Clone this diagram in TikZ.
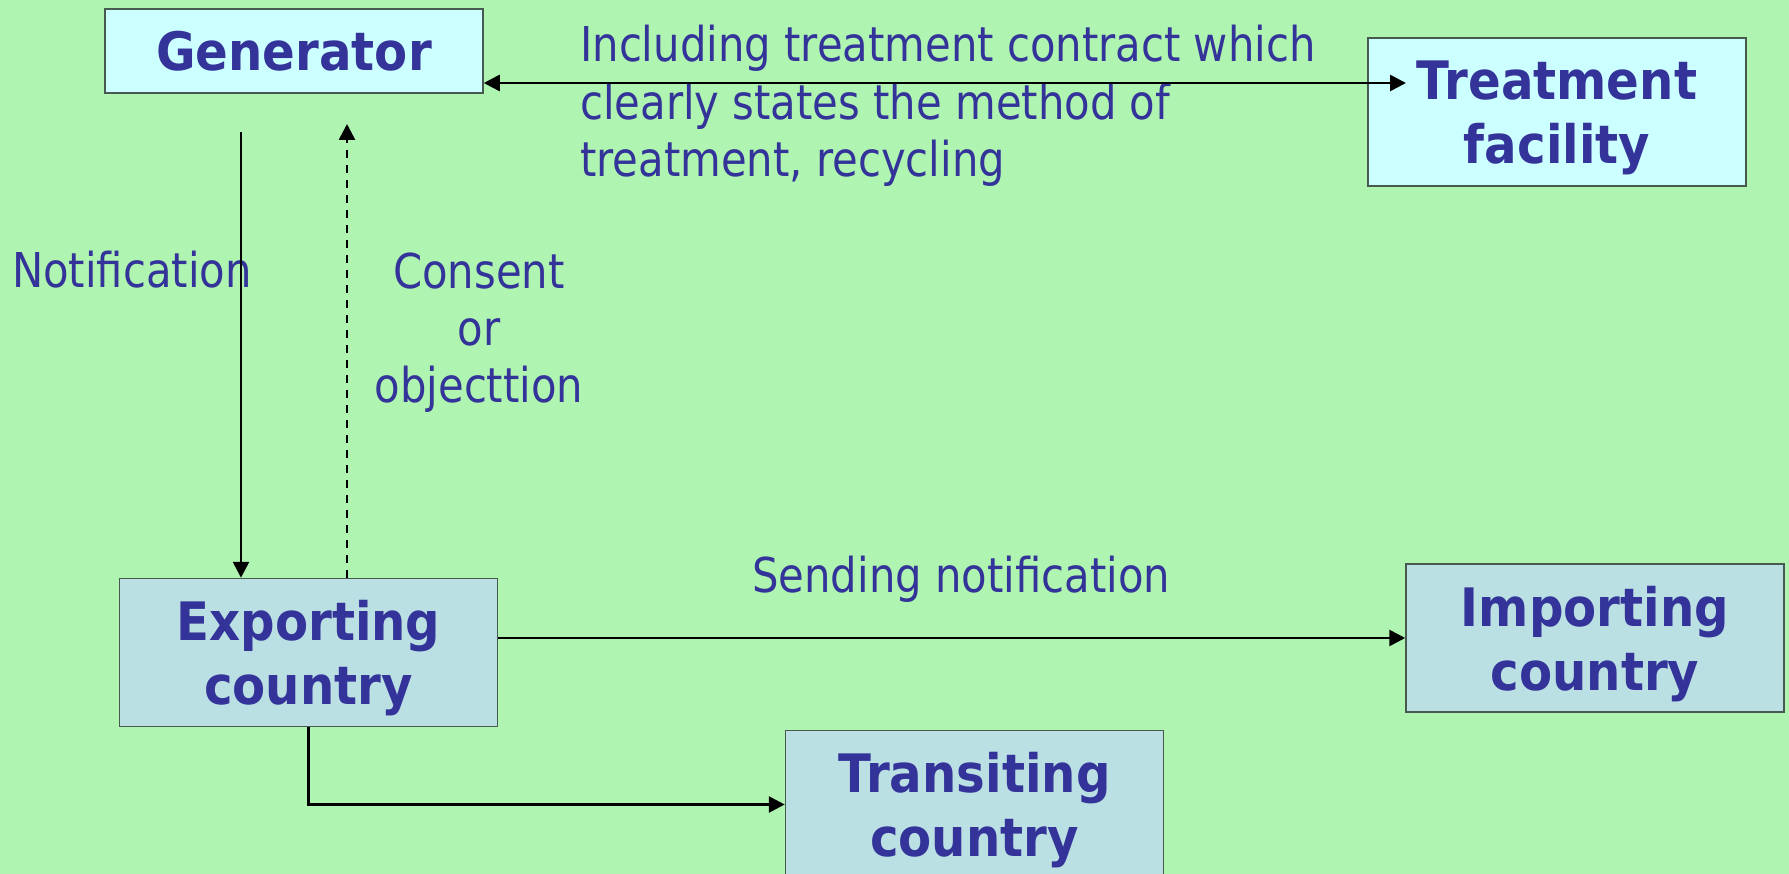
\documentclass[tikz,border=0pt]{standalone}
\usepackage{fontspec}
\setmainfont{DejaVu Sans}[FakeStretch=0.87]
\newfontfamily\boxfont{DejaVu Sans}[FakeStretch=0.91]
\usetikzlibrary{arrows.meta}
\definecolor{bg}{RGB}{175,245,177}
\definecolor{txt}{RGB}{51,51,153}
\definecolor{lightcyan}{RGB}{204,255,255}
\definecolor{paleblue}{RGB}{187,224,227}
\definecolor{edge}{RGB}{70,90,80}
\tikzset{>={Triangle[length=16pt,width=16pt]}}

\begin{document}
\begin{tikzpicture}[x=1pt,y=-1pt,
    box/.style={draw=edge,line width=1.5pt,minimum width=378pt,minimum height=148pt,
      inner sep=0pt,align=center,text depth=0pt,text=txt,
      font=\boxfont\bfseries\fontsize{53}{64}\selectfont},
    lbl/.style={inner sep=0pt,text=txt,font=\fontsize{48}{57.5}\selectfont},
    conn/.style={line width=2.7pt}]
  \fill[bg] (0,0) rectangle (1789,874);
  \useasboundingbox (0,0) rectangle (1789,874);
  % boxes
  \node[box,fill=lightcyan,minimum height=84pt] (gen) at (294,51) {Generator};
  \node[box,fill=lightcyan] (treat) at (1557,112) {Treatment\\facility};
  \node[box,fill=paleblue] (exp) at (308.5,652.5) {Exporting\\country};
  \node[box,fill=paleblue] (imp) at (1595,638) {Importing\\country};
  \node[box,fill=paleblue] (trans) at (974.5,804.5) {Transiting\\country};
  % labels (base = last line)
  \node[lbl,anchor=base west,align=left] (contract) at (580,177)
    {Including treatment contract which\\clearly states the method of\\treatment, recycling};
  \node[lbl,anchor=base west] (notif) at (12,288) {Notification};
  \node[lbl,anchor=base,align=center] (consent) at (479,403) {Consent\\or\\objecttion};
  \node[lbl,anchor=base west] (send) at (752,592) {Sending notification};
  % connectors
  \coordinate (tin) at (1406,83);
  \coordinate (nstart) at (241,132);
  \coordinate (cend) at (347,124);
  \draw[conn,<->] (gen.east |- tin) -- (tin);
  \draw[conn,->] (nstart) -- (nstart |- exp.north);
  \draw[conn,->,dash pattern=on 8pt off 7pt] (cend |- exp.north) -- (cend);
  \draw[conn,->] (exp.east |- imp.west) -- (imp.west);
  \draw[conn,->] (exp.south) |- (trans.west);
\end{tikzpicture}
\end{document}
